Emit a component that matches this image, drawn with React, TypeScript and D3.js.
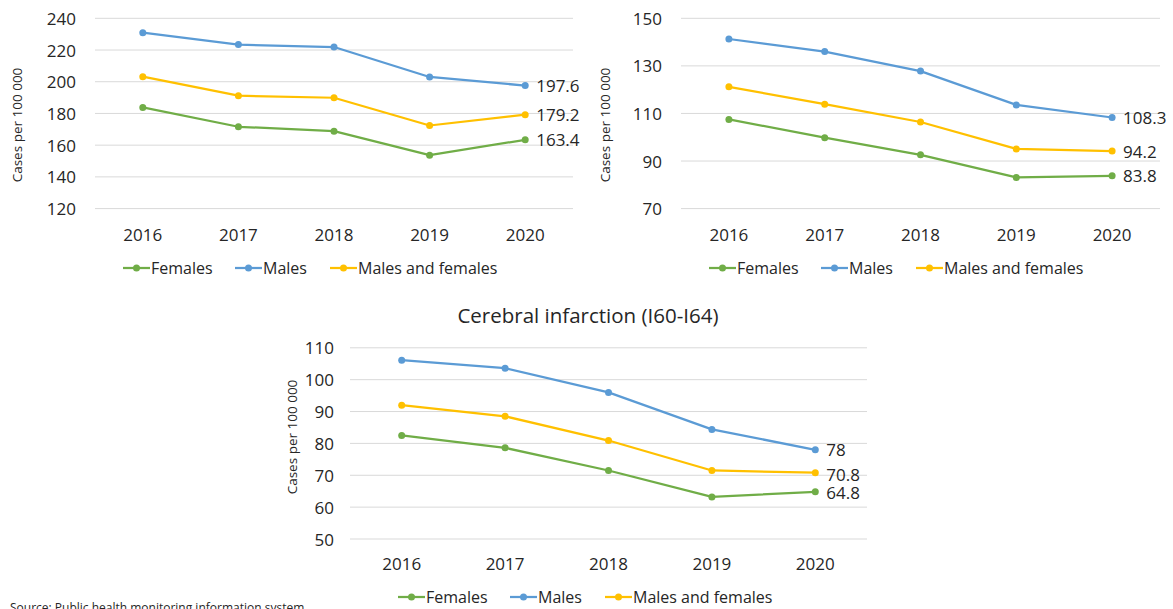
import React from "react";
import * as d3 from "d3";

const years = ["2016", "2017", "2018", "2019", "2020"];
const seriesNames = ["Females", "Males", "Males and females"];
const seriesColors = ["#70AD47", "#5B9BD5", "#FFC000"];

// Chart 1 (top-left)
const c1Females = [183.8, 171.6, 168.8, 153.7, 163.4];
const c1Males = [230.9, 223.4, 221.9, 203.0, 197.6];
const c1Both = [203.2, 191.2, 189.9, 172.4, 179.2];
const c1Ticks = [120, 140, 160, 180, 200, 220, 240];

// Chart 2 (top-right)
const c2Females = [107.5, 99.8, 92.6, 83.1, 83.8];
const c2Males = [141.3, 136.0, 127.8, 113.6, 108.3];
const c2Both = [121.2, 113.9, 106.4, 95.1, 94.2];
const c2Ticks = [70, 90, 110, 130, 150];

// Chart 3 (bottom)
const c3Title = "Cerebral infarction (I60-I64)";
const c3Females = [82.5, 78.6, 71.5, 63.2, 64.8];
const c3Males = [106.1, 103.6, 96.0, 84.4, 78];
const c3Both = [92.0, 88.5, 80.9, 71.5, 70.8];
const c3Ticks = [50, 60, 70, 80, 90, 100, 110];

const yTitle = "Cases per 100 000";
const sourceText = "Source: Public health monitoring information system";

const FONT = "'Open Sans', sans-serif";
const TXT = "#262626";

type ChartProps = {
  x0: number;
  x1: number;
  yTop: number;
  yBottom: number;
  ticks: number[];
  series: number[][];
  labelRight: number;
  yTitleX: number;
  yTitleY: number;
  xLabelY: number;
  legendX: number;
  legendY: number;
  labelNudge?: number[];
  title?: string;
  titleX?: number;
  titleY?: number;
};

function Chart(p: ChartProps) {
  const x = d3.scaleBand<string>().domain(years).range([p.x0, p.x1]).padding(0);
  const cx = (c: string) => (x(c) as number) + x.bandwidth() / 2;
  const y = d3
    .scaleLinear()
    .domain([p.ticks[0], p.ticks[p.ticks.length - 1]])
    .range([p.yBottom, p.yTop]);
  const line = d3
    .line<number>()
    .x((_, i) => cx(years[i]))
    .y((v) => y(v));

  const legendWidths = [64, 47, 146];
  let lx = p.legendX;
  const legendItems = seriesNames.map((n, i) => {
    const item = { x: lx, name: n, color: seriesColors[i] };
    lx += 28 + legendWidths[i] + 20;
    return item;
  });
  const nudge = p.labelNudge || [0, 0, 0];

  return (
    <g>
      {p.title && (
        <text
          x={p.titleX}
          y={p.titleY}
          textAnchor="middle"
          dominantBaseline="central"
          fontSize={20.5}
          fill={TXT}
        >
          {p.title}
        </text>
      )}
      {p.ticks.map((t) => (
        <g key={t}>
          <line
            x1={p.x0}
            x2={p.x1}
            y1={y(t)}
            y2={y(t)}
            stroke="#D9D9D9"
            strokeWidth={1}
          />
          <text
            x={p.labelRight}
            y={y(t)}
            textAnchor="end"
            dominantBaseline="central"
            fontSize={17}
            fill={TXT}
          >
            {t}
          </text>
        </g>
      ))}
      {years.map((c) => (
        <text
          key={c}
          x={cx(c)}
          y={p.xLabelY}
          textAnchor="middle"
          dominantBaseline="central"
          fontSize={17}
          fill={TXT}
        >
          {c}
        </text>
      ))}
      <text
        transform={`translate(${p.yTitleX},${p.yTitleY}) rotate(-90)`}
        textAnchor="middle"
        dominantBaseline="central"
        fontSize={13.5}
        fill={TXT}
      >
        {yTitle}
      </text>
      {p.series.map((s, i) => (
        <g key={i}>
          <path
            d={line(s) || ""}
            fill="none"
            stroke={seriesColors[i]}
            strokeWidth={2.25}
            strokeLinejoin="round"
          />
          {s.map((v, j) => (
            <circle key={j} cx={cx(years[j])} cy={y(v)} r={3.5} fill={seriesColors[i]} />
          ))}
          <text
            x={cx(years[years.length - 1]) + 11}
            y={y(s[s.length - 1]) + nudge[i]}
            dominantBaseline="central"
            fontSize={17}
            fill={TXT}
          >
            {s[s.length - 1]}
          </text>
        </g>
      ))}
      {legendItems.map((it) => (
        <g key={it.name}>
          <line
            x1={it.x}
            x2={it.x + 27}
            y1={p.legendY}
            y2={p.legendY}
            stroke={it.color}
            strokeWidth={2.25}
          />
          <circle cx={it.x + 13.5} cy={p.legendY} r={3.5} fill={it.color} />
          <text
            x={it.x + 28}
            y={p.legendY}
            dominantBaseline="central"
            fontSize={16}
            fill={TXT}
          >
            {it.name}
          </text>
        </g>
      ))}
    </g>
  );
}

export default function App() {
  return (
    <svg
      width={1173}
      height={609}
      style={{ position: "absolute", left: 0, top: 0, background: "#fff" }}
      fontFamily={FONT}
    >
      <rect x={0} y={0} width={1173} height={609} fill="#fff" />
      <Chart
        x0={95}
        x1={573}
        yTop={18.3}
        yBottom={208.6}
        ticks={c1Ticks}
        series={[c1Females, c1Males, c1Both]}
        labelRight={76}
        yTitleX={17}
        yTitleY={125}
        xLabelY={234}
        legendX={123}
        legendY={268}
      />
      <Chart
        x0={681}
        x1={1160}
        yTop={18.3}
        yBottom={208.6}
        ticks={c2Ticks}
        series={[c2Females, c2Males, c2Both]}
        labelRight={662}
        yTitleX={605}
        yTitleY={125}
        xLabelY={234}
        legendX={709}
        legendY={268}
      />
      <Chart
        x0={350}
        x1={867}
        yTop={347.8}
        yBottom={539}
        ticks={c3Ticks}
        series={[c3Females, c3Males, c3Both]}
        labelRight={334}
        yTitleX={292}
        yTitleY={437}
        xLabelY={563}
        legendX={398}
        legendY={597}
        labelNudge={[0.5, 0, 1.5]}
        title={c3Title}
        titleX={588}
        titleY={315}
      />
      <text x={10} y={612} fontSize={12} fill={TXT}>
        {sourceText}
      </text>
    </svg>
  );
}
